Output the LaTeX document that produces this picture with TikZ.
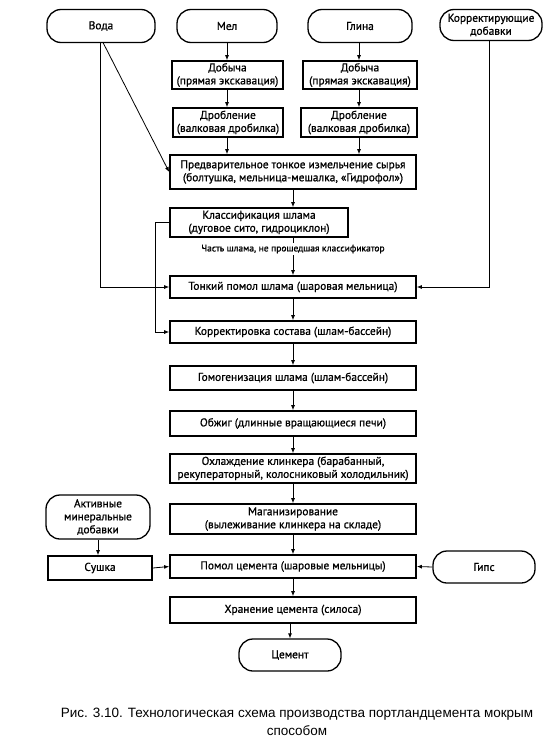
\documentclass[tikz,border=0pt]{standalone}
\usepackage{fontspec}
\setmainfont{PT Sans}
\newfontfamily\diagfam[FakeBold=0.9]{PT Sans}
\newfontfamily\capfont{Liberation Sans}
\usetikzlibrary{arrows.meta}
\newcommand\diagfont{\diagfam\fontsize{11.4}{13}\selectfont}
\newcommand\smallfont{\diagfam\fontsize{9.5}{11}\selectfont}
\begin{document}
\begin{tikzpicture}[x=1pt,y=-1pt,
  box/.style={draw, line width=1.7pt, inner sep=1pt, align=center, font=\diagfont},
  term/.style={draw, line width=1.3pt, rounded corners=14pt, inner sep=1pt, align=center, font=\diagfont},
  conn/.style={line width=0.8pt},
  arr/.style={conn, -{Latex[length=5pt,width=4pt]}}
]
\useasboundingbox (0,0) rectangle (552,747);

% terminals
\node[term, minimum width=108pt, minimum height=33pt] (voda) at (101,26) {Вода};
\node[term, minimum width=100pt, minimum height=33pt] (mel) at (227,26) {Мел};
\node[term, minimum width=104pt, minimum height=33pt] (glina) at (360,26) {Глина};
\node[term, minimum width=102pt, minimum height=31pt] (korr) at (491,25) {Корректирующие\\добавки};

% raw material boxes
\node[box, minimum width=111pt, minimum height=28pt] (dob1) at (227.5,75) {Добыча\\(прямая экскавация)};
\node[box, minimum width=114pt, minimum height=28pt] (dob2) at (360,75) {Добыча\\(прямая экскавация)};
\node[box, minimum width=110pt, minimum height=29pt] (drob1) at (228,122.5) {Дробление\\(валковая дробилка)};
\node[box, minimum width=116pt, minimum height=29pt] (drob2) at (359,122.5) {Дробление\\(валковая дробилка)};

% main chain
\node[box, minimum width=246pt, minimum height=34pt] (pred) at (293,172) {Предварительное тонкое измельчение сырья\\(болтушка, мельница-мешалка, «Гидрофол»)};
\node[box, minimum width=178pt, minimum height=29pt] (klass) at (259,222.5) {Классификация шлама\\(дуговое сито, гидроциклон)};
\node[box, minimum width=246pt, minimum height=22pt] (tonk) at (293,287) {Тонкий помол шлама (шаровая мельница)};
\node[box, minimum width=246pt, minimum height=22pt] (korrekt) at (293,332) {Корректировка состава (шлам-бассейн)};
\node[box, minimum width=246pt, minimum height=24pt] (gomog) at (293,378) {Гомогенизация шлама (шлам-бассейн)};
\node[box, minimum width=246pt, minimum height=25pt] (obzhig) at (293,423.5) {Обжиг (длинные вращающиеся печи)};
\node[box, minimum width=246pt, minimum height=29pt] (ohl) at (293,468.5) {Охлаждение клинкера (барабанный,\\рекуператорный, колосниковый холодильник)};
\node[box, minimum width=246pt, minimum height=30pt] (magn) at (293,519) {Маганизирование\\(вылеживание клинкера на складе)};
\node[box, minimum width=246pt, minimum height=23pt] (pomol) at (293,566.5) {Помол цемента (шаровые мельницы)};
\node[box, minimum width=246pt, minimum height=26pt] (hran) at (293,610) {Хранение цемента (силоса)};
\node[term, minimum width=102pt, minimum height=32pt] (cement) at (290,655) {Цемент};

% side inputs
\node[term, minimum width=104pt, minimum height=44pt] (aktiv) at (98,517) {Активные\\минеральные\\добавки};
\node[box, minimum width=104pt, minimum height=24pt] (sushka) at (100,568) {Сушка};
\node[term, minimum width=102pt, minimum height=32pt] (gips) at (484,567) {Гипс};

% caption
\node[font=\capfont\fontsize{13.5}{18}\selectfont, align=center] (cap) at (297,722) {Рис. 3.10. Технологическая схема производства портландцемента мокрым\\способом};

% helper coordinates
\coordinate (vodaB) at (103,42.5);
\coordinate (vodaL) at (100,287);
\coordinate (korrL) at (489,287);
\coordinate (fbL) at (155,222.5);
\coordinate (fbL2) at (155,332);
\coordinate (axM) at (227,0);
\coordinate (axG) at (359,0);
\coordinate (axC) at (293,0);

% connectors
\draw[arr] (mel.south -| axM) -- (dob1.north -| axM);
\draw[arr] (dob1.south -| axM) -- (drob1.north -| axM);
\draw[arr] (drob1.south -| axM) -- (pred.north -| axM);
\draw[arr] (glina.south -| axG) -- (dob2.north -| axG);
\draw[arr] (dob2.south -| axG) -- (drob2.north -| axG);
\draw[arr] (drob2.south -| axG) -- (pred.north -| axG);

\draw[arr] (vodaB) -- (pred.west);
\draw[arr] (voda.south -| vodaL) -- (vodaL) -- (tonk.west);
\draw[arr] (korr.south -| korrL) -- (korrL) -- (tonk.east);

\draw[arr] (pred.south -| axC) -- (klass.north -| axC);
\draw[arr] (klass.south -| axC) -- node[pos=0.3, fill=white, inner sep=1.5pt, font=\smallfont] (lbl) {Часть шлама, не прошедшая классификатор} (tonk.north -| axC);
\draw[arr] (klass.west) -- (fbL) -- (fbL2) -- (korrekt.west);

\draw[arr] (tonk) -- (korrekt);
\draw[arr] (korrekt) -- (gomog);
\draw[arr] (gomog) -- (obzhig);
\draw[arr] (obzhig) -- (ohl);
\draw[arr] (ohl) -- (magn);
\draw[arr] (magn) -- (pomol);
\draw[arr] (pomol) -- (hran);
\draw[arr] (hran.south -| cement.north) -- (cement.north);

\draw[arr] (aktiv.south) -- (sushka.north -| aktiv.south);
\draw[arr] (sushka.east) -- (pomol.west);
\draw[arr] (gips.west) -- (pomol.east);
\end{tikzpicture}
\end{document}
